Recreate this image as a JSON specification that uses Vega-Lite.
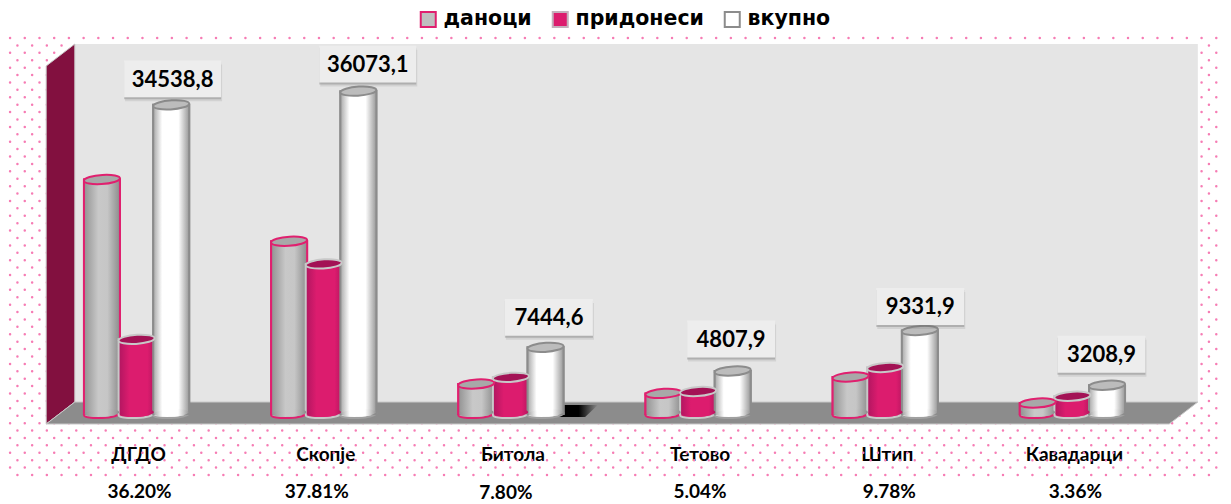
{
"$schema":"https://vega.github.io/schema/vega-lite/v6.json",
"width":1123,"height":380,
"autosize":{"type":"none"},
"padding":{"left":43,"top":44,"right":65,"bottom":80},
"background":"white",
"config":{"view":{"stroke":null},"font":"Lato"},
"datasets":{
"vals":[
{"city":"ДГДО","series":"даноци","value":26200,"label":"","share":"36.20%"},
{"city":"ДГДО","series":"придонеси","value":8339,"label":"","share":""},
{"city":"ДГДО","series":"вкупно","value":34538.8,"label":"34538,8","share":""},
{"city":"Скопје","series":"даноци","value":19300,"label":"","share":"37.81%"},
{"city":"Скопје","series":"придонеси","value":16773,"label":"","share":""},
{"city":"Скопје","series":"вкупно","value":36073.1,"label":"36073,1","share":""},
{"city":"Битола","series":"даноци","value":3350,"label":"","share":"7.80%"},
{"city":"Битола","series":"придонеси","value":4095,"label":"","share":""},
{"city":"Битола","series":"вкупно","value":7444.6,"label":"7444,6","share":""},
{"city":"Тетово","series":"даноци","value":2300,"label":"","share":"5.04%"},
{"city":"Тетово","series":"придонеси","value":2508,"label":"","share":""},
{"city":"Тетово","series":"вкупно","value":4807.9,"label":"4807,9","share":""},
{"city":"Штип","series":"даноци","value":4130,"label":"","share":"9.78%"},
{"city":"Штип","series":"придонеси","value":5200,"label":"","share":""},
{"city":"Штип","series":"вкупно","value":9331.9,"label":"9331,9","share":""},
{"city":"Кавадарци","series":"даноци","value":1230,"label":"","share":"3.36%"},
{"city":"Кавадарци","series":"придонеси","value":1980,"label":"","share":""},
{"city":"Кавадарци","series":"вкупно","value":3208.9,"label":"3208,9","share":""}
],
"rows":[{"r":0},{"r":1},{"r":2},{"r":3},{"r":4},{"r":5},{"r":6},{"r":7},{"r":8},{"r":9},{"r":10},{"r":11},{"r":12},{"r":13},{"r":14},{"r":15},{"r":16},{"r":17},{"r":18},{"r":19},{"r":20},{"r":21},{"r":22},{"r":23},{"r":24},{"r":25},{"r":26},{"r":27},{"r":28},{"r":29},{"r":30},{"r":31},{"r":32},{"r":33},{"r":34},{"r":35},{"r":36},{"r":37},{"r":38},{"r":39},{"r":40},{"r":41},{"r":42},{"r":43},{"r":44},{"r":45},{"r":46},{"r":47},{"r":48},{"r":49},{"r":50},{"r":51},{"r":52},{"r":53},{"r":54},{"r":55},{"r":56},{"r":57},{"r":58},{"r":59}],
"backwall":[{"p":0.17,"lo":1340,"hi":41340},{"p":6.17,"lo":1340,"hi":41340}],
"sidewall":[{"p":0.017,"lo":-1117,"hi":38880},{"p":0.17,"lo":1340,"hi":41340}],
"floor":[{"v":-1117,"a":0.017,"b":6.017},{"v":1340,"a":0.17,"b":6.17}]
},
"layer":[
{"layer":[
{"data":{"name":"rows"},"transform":[{"filter":"datum.r % 2 == 0"}],
 "mark":{"type":"rule","stroke":"#f67cb4","strokeWidth":2.5,"strokeCap":"round","strokeDash":[0.01,14.7]},
 "encoding":{"y":{"field":"r","type":"quantitative","axis":null,"scale":{"domain":[0,59],"range":[-6,431]}},
  "x":{"datum":-0.176,"type":"quantitative","scale":{"domain":[0,6],"nice":false,"zero":false},"axis":null},"x2":{"datum":6.3}}},
{"data":{"name":"rows"},"transform":[{"filter":"datum.r % 2 == 1"}],
 "mark":{"type":"rule","stroke":"#f67cb4","strokeWidth":2.5,"strokeCap":"round","strokeDash":[0.01,14.7],"strokeDashOffset":7.35},
 "encoding":{"y":{"field":"r","type":"quantitative","axis":null,"scale":{"domain":[0,59],"range":[-6,431]}},
  "x":{"datum":-0.176,"type":"quantitative","scale":{"domain":[0,6],"nice":false,"zero":false},"axis":null},"x2":{"datum":6.3}}}
],"resolve":{"scale":{"y":"independent"}}},
{"layer":[
{"data":{"name":"backwall"},"mark":{"type":"area","fill":"#e5e5e5","orient":"vertical"},
 "encoding":{"x":{"field":"p","type":"quantitative","axis":null,"scale":{"domain":[0,6],"nice":false,"zero":false}},"y":{"field":"lo","type":"quantitative"},"y2":{"field":"hi"}}},
{"data":{"name":"sidewall"},"mark":{"type":"area","fill":"#82103f","stroke":"#c8c8c8","strokeWidth":1,"orient":"vertical"},
 "encoding":{"x":{"field":"p","type":"quantitative","axis":null,"scale":{"domain":[0,6],"nice":false,"zero":false}},"y":{"field":"lo","type":"quantitative"},"y2":{"field":"hi"}}},
{"data":{"name":"floor"},"mark":{"type":"area","fill":"#8c8c8c","stroke":"#c8c8c8","strokeWidth":1,"orient":"horizontal"},
 "encoding":{"y":{"field":"v","type":"quantitative"},"x":{"field":"a","type":"quantitative","axis":null,"scale":{"domain":[0,6],"nice":false,"zero":false}},"x2":{"field":"b"}}}
],"encoding":{"y":{"scale":{"domain":[-1117,41340],"nice":false,"zero":false},"axis":null}}},
{"data":{"name":"vals"},
 "encoding":{
  "x":{"field":"city","type":"nominal","sort":null,"scale":{"domain":["ДГДО","Скопје","Битола","Тетово","Штип","Кавадарци"],"paddingInner":0.445,"paddingOuter":0.2225},
   "axis":{"title":null,"domain":false,"ticks":false,"labelAngle":0,"labelPadding":21,"labelOffset":2,"labelFont":"Lato","labelFontWeight":"bold","labelFontSize":19,"labelColor":"#000"}},
  "xOffset":{"field":"series","type":"nominal","scale":{"domain":["даноци","придонеси","вкупно"]}},
  "y":{"field":"value","type":"quantitative","scale":{"domain":[-1117,41340],"nice":false,"zero":false},"axis":null}
 },
 "layer":[
 {"transform":[{"filter":"datum.city==='Битола' && datum.series==='вкупно'"}],
  "mark":{"type":"point","filled":true,"shape":"M-0.7,-0.19 L1,-0.19 L0.6,0.19 L-1,0.19 Z","size":4096,"xOffset":55,"yOffset":-3,"opacity":1,"strokeWidth":0,
   "fill":{"gradient":"linear","x1":0,"x2":1,"y1":0,"y2":0,"stops":[{"offset":0,"color":"#000000"},{"offset":0.7,"color":"#000000"},{"offset":1,"color":"#8c8c8c"}]}},
  "encoding":{"xOffset":null,"y":{"datum":0,"type":"quantitative"}}},
 {"mark":{"type":"point","filled":true,"shape":"M-1,0.05 A1,0.22 -3 1 1 1,-0.05 A1,0.22 -3 1 1 -1,0.05 Z","size":1296,"strokeWidth":2},
  "encoding":{"y":{"datum":0,"type":"quantitative"},
   "fill":{"condition":[{"test":"datum.series==='даноци'","value":"#b4b4b4"},{"test":"datum.series==='придонеси'","value":"#dc1c6e"}],"value":"#e6e6e6"},
   "stroke":{"condition":[{"test":"datum.series==='даноци'","value":"#e0206f"},{"test":"datum.series==='придонеси'","value":"#c8c8c8"}],"value":"#a0a0a0"},"opacity":{"value":1}}},
 {"mark":{"type":"bar","size":36,"strokeWidth":2},
  "encoding":{"y2":{"datum":0},
   "fill":{"field":"series","type":"nominal","scale":{"domain":["даноци","придонеси","вкупно"],"range":["#c0c0c0","#dc1c6e","#ffffff"]},
    "legend":{"orient":"none","legendX":375,"legendY":-35,"direction":"horizontal","title":null,"symbolType":"square","symbolSize":225,"symbolStrokeWidth":2,"labelFont":"DejaVu Sans","labelFontWeight":"bold","labelFontSize":20.5,"labelColor":"#000","columnPadding":16,"labelOffset":5,"columns":3}},
   "stroke":{"field":"series","type":"nominal","scale":{"domain":["даноци","придонеси","вкупно"],"range":["#e0206f","#c4b0bc","#8c8c8c"]}}}},
 {"mark":{"type":"bar","size":36},
  "encoding":{"y2":{"datum":0},
   "fill":{"condition":[
    {"test":"datum.series==='даноци'","value":{"gradient":"linear","x1":0,"x2":1,"y1":0,"y2":0,"stops":[{"offset":0,"color":"#929292"},{"offset":0.4,"color":"#c8c8c8"},{"offset":0.65,"color":"#c6c6c6"},{"offset":1,"color":"#8c8c8c"}]}},
    {"test":"datum.series==='придонеси'","value":{"gradient":"linear","x1":0,"x2":1,"y1":0,"y2":0,"stops":[{"offset":0,"color":"#b01660"},{"offset":0.3,"color":"#dc1c6e"},{"offset":0.8,"color":"#dc1c6e"},{"offset":1,"color":"#b81660"}]}}],
    "value":{"gradient":"linear","x1":0,"x2":1,"y1":0,"y2":0,"stops":[{"offset":0,"color":"#a8a8a8"},{"offset":0.25,"color":"#ffffff"},{"offset":0.7,"color":"#ffffff"},{"offset":1,"color":"#989898"}]}},
   "stroke":{"condition":[{"test":"datum.series==='даноци'","value":"#e0206f"},{"test":"datum.series==='придонеси'","value":"#c8c8c8"}],"value":"#8c8c8c"},
   "strokeWidth":{"value":2}}},
 {"mark":{"type":"point","filled":true,"shape":"M-1,0.05 A1,0.22 -3 1 1 1,-0.05 A1,0.22 -3 1 1 -1,0.05 Z","size":1190,"strokeWidth":0,"yOffset":-1},
  "encoding":{"y":{"datum":0,"type":"quantitative"},
   "fill":{"condition":[
    {"test":"datum.series==='даноци'","value":{"gradient":"linear","x1":0,"x2":1,"y1":0,"y2":0,"stops":[{"offset":0,"color":"#929292"},{"offset":0.4,"color":"#c8c8c8"},{"offset":0.65,"color":"#c6c6c6"},{"offset":1,"color":"#8c8c8c"}]}},
    {"test":"datum.series==='придонеси'","value":{"gradient":"linear","x1":0,"x2":1,"y1":0,"y2":0,"stops":[{"offset":0,"color":"#b01660"},{"offset":0.3,"color":"#dc1c6e"},{"offset":0.8,"color":"#dc1c6e"},{"offset":1,"color":"#b81660"}]}}],
    "value":{"gradient":"linear","x1":0,"x2":1,"y1":0,"y2":0,"stops":[{"offset":0,"color":"#a8a8a8"},{"offset":0.25,"color":"#ffffff"},{"offset":0.7,"color":"#ffffff"},{"offset":1,"color":"#989898"}]}},"opacity":{"value":1}}},
 {"mark":{"type":"point","filled":true,"shape":"M-1,0.06 A1,0.25 -4 1 1 1,-0.06 A1,0.25 -4 1 1 -1,0.06 Z","size":1296,"strokeWidth":2},
  "encoding":{
   "fill":{"condition":[{"test":"datum.series==='даноци'","value":"#a8a8a8"},{"test":"datum.series==='придонеси'","value":"#a31255"}],"value":"#bcbcbc"},
   "stroke":{"condition":[{"test":"datum.series==='даноци'","value":"#e0206f"},{"test":"datum.series==='придонеси'","value":"#c8c8c8"}],"value":"#8c8c8c"},"opacity":{"value":1}}},
 {"transform":[{"filter":"datum.label!==''"}],
  "mark":{"type":"point","filled":true,"shape":{"expr":"datum.value>30000?'M-1,-0.38 H1 V0.38 H-1 Z':'M-1,-0.42 H1 V0.42 H-1 Z'"},"size":{"expr":"datum.value>30000?9409:7744"},"fill":"#707070","opacity":0.16,
   "xOffset":{"expr":"(datum.city==='ДГДО'?36:datum.city==='Скопје'?44:datum.city==='Битола'?38:datum.city==='Тетово'?33:datum.city==='Кавадарци'?29:35)+1"},
   "yOffset":{"expr":"(datum.city==='ДГДО'?-26:datum.city==='Скопје'?-27:datum.city==='Битола'?-30:datum.city==='Тетово'?-32:datum.city==='Штип'?-24:-31)+4"}},
  "encoding":{"xOffset":null}},
 {"transform":[{"filter":"datum.label!==''"}],
  "mark":{"type":"point","filled":true,"shape":{"expr":"datum.value>30000?'M-1,-0.38 H1 V0.38 H-1 Z':'M-1,-0.42 H1 V0.42 H-1 Z'"},"size":{"expr":"datum.value>30000?9409:7744"},"fill":"#707070","opacity":0.35,
   "xOffset":{"expr":"datum.city==='ДГДО'?36:datum.city==='Скопје'?44:datum.city==='Битола'?38:datum.city==='Тетово'?33:datum.city==='Кавадарци'?29:35"},
   "yOffset":{"expr":"(datum.city==='ДГДО'?-26:datum.city==='Скопје'?-27:datum.city==='Битола'?-30:datum.city==='Тетово'?-32:datum.city==='Штип'?-24:-31)+2"}},
  "encoding":{"xOffset":null}},
 {"transform":[{"filter":"datum.label!==''"}],
  "mark":{"type":"point","filled":true,"shape":{"expr":"datum.value>30000?'M-1,-0.38 H1 V0.38 H-1 Z':'M-1,-0.42 H1 V0.42 H-1 Z'"},"size":{"expr":"datum.value>30000?9409:7744"},"fill":"#ededed","opacity":1,
   "xOffset":{"expr":"datum.city==='ДГДО'?36:datum.city==='Скопје'?44:datum.city==='Битола'?38:datum.city==='Тетово'?33:datum.city==='Кавадарци'?29:35"},
   "yOffset":{"expr":"datum.city==='ДГДО'?-26:datum.city==='Скопје'?-27:datum.city==='Битола'?-30:datum.city==='Тетово'?-32:datum.city==='Штип'?-24:-31"}},
  "encoding":{"xOffset":null}},
 {"transform":[{"filter":"datum.label!==''"}],
  "mark":{"type":"text","font":"Lato","fontWeight":"bold","fontSize":22,"fill":"#000","baseline":"middle",
   "xOffset":{"expr":"datum.city==='ДГДО'?36:datum.city==='Скопје'?44:datum.city==='Битола'?38:datum.city==='Тетово'?33:datum.city==='Кавадарци'?29:35"},
   "yOffset":{"expr":"(datum.city==='ДГДО'?-26:datum.city==='Скопје'?-27:datum.city==='Битола'?-30:datum.city==='Тетово'?-32:datum.city==='Штип'?-24:-31)+1"}},
  "encoding":{"xOffset":null,"text":{"field":"label"}}},
 {"transform":[{"filter":"datum.share!==''"}],
  "mark":{"type":"text","font":"Lato","fontWeight":"bold","fontSize":19,"fill":"#000","baseline":"middle",
   "xOffset":{"expr":"datum.city==='ДГДО'?3:datum.city==='Скопје'?-7:datum.city==='Битола'?-5:datum.city==='Тетово'?2:datum.city==='Штип'?4:3"},
   "yOffset":{"expr":"datum.city==='Битола'?69:68"}},
  "encoding":{"xOffset":null,"y":{"datum":-1117,"type":"quantitative"},"text":{"field":"share"}}}
 ]
}
],
"resolve":{"scale":{"x":"independent"},"axis":{"x":"independent"}}
}
